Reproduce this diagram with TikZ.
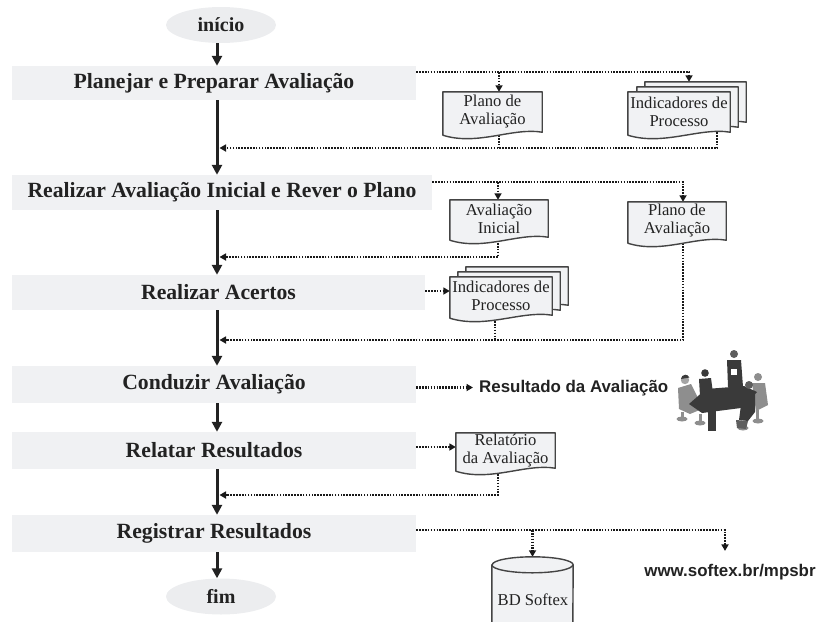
\documentclass[tikz,border=0pt]{standalone}
\usepackage{fontspec}
\setmainfont{Liberation Serif}
\newfontfamily\sansbold{Liberation Sans}
\usetikzlibrary{arrows.meta,calc,shapes.geometric}

\definecolor{stagefill}{HTML}{F0F1F3}
\definecolor{ovalfill}{HTML}{ECEDEF}
\definecolor{docfill}{HTML}{F1F2F4}
\definecolor{inkgray}{HTML}{222222}
\definecolor{docedge}{HTML}{444444}
\definecolor{meetdark}{HTML}{3A3A3A}
\definecolor{meetmid}{HTML}{5E5E5E}
\definecolor{meetlight}{HTML}{8E8E8E}

\pgfdeclarelayer{links}
\pgfdeclarelayer{sheets}
\pgfsetlayers{links,sheets,main}

\tikzset{
  stage/.style={fill=stagefill, inner sep=0pt, text=inkgray,
    font=\fontsize{21.7}{24}\selectfont\bfseries},
  terminal/.style={ellipse, fill=ovalfill, minimum width=110pt, minimum height=36pt,
    inner sep=0pt, text=inkgray, font=\fontsize{20}{24}\selectfont\bfseries},
  sheet/.style={inner sep=0pt, align=center, text=inkgray,
    font=\fontsize{16.6}{18}\selectfont},
  sheetline/.style={draw=docedge, fill=docfill, line width=1.4pt, line join=round},
  flow/.style={draw=inkgray, line width=3pt,
    -{Triangle[length=10pt,width=10pt]}},
  dotline/.style={draw=black!90, line width=2.1pt, dash pattern=on 1.6pt off 1.3pt},
  dotarrow/.style={dotline, -{Triangle[length=6.5pt,width=7pt]}},
  bigsans/.style={inner sep=0pt, text=inkgray,
    font={\sansbold\fontsize{16.9}{18}\selectfont\bfseries}},
}

% outline of a document sheet with a wavy lower edge, around node #1
\newcommand\sheetoutline[1]{%
  \filldraw[sheetline] (#1.north west) -- (#1.north east) -- (#1.south east)
    .. controls ($(#1.south west)!0.7!(#1.south east)+(0,5)$)
           and ($(#1.south west)!0.35!(#1.south east)+(0,-14)$)
    .. ($(#1.south west)+(0,-3)$) -- cycle;}

\begin{document}
\begin{tikzpicture}[x=1pt,y=1pt]
\useasboundingbox (0,0) rectangle (818,-621);

% --- start / end ---
\node[terminal] (start) at (221,-25) {início};
\node[terminal] (end) at (221,-596.5) {fim};

% --- process stages ---
\node[stage, minimum width=404pt, minimum height=34pt] (s1) at (214,-83) {Planejar e Preparar Avaliação};
\node[stage, minimum width=420pt, minimum height=35pt] (s2) at (222,-192.5) {Realizar Avaliação Inicial e Rever o Plano};
\node[stage, minimum width=413pt, minimum height=35pt] (s3) at (218.5,-292.5) {Realizar Acertos};
\node[stage, minimum width=404pt, minimum height=37pt] (s4) at (214,-384.5) {Conduzir Avaliação};
\node[stage, minimum width=404pt, minimum height=37pt] (s5) at (214,-450.5) {Relatar Resultados};
\node[stage, minimum width=404pt, minimum height=37pt] (s6) at (214,-533.5) {Registrar Resultados};

% --- document sheets ---
\node[sheet, minimum width=99pt, minimum height=40pt] (plan1) at (492.5,-112) {Plano de\\Avaliação};
\node[sheet, minimum width=101pt, minimum height=40pt] (ind1b) at (695.5,-102) {};
\node[sheet, minimum width=101pt, minimum height=40pt] (ind1m) at (687.5,-107) {};
\node[sheet, minimum width=102pt, minimum height=40pt] (ind1) at (679,-112) {Indicadores de\\Processo};

\node[sheet, minimum width=98pt, minimum height=37pt] (ainic) at (499,-218.5) {Avaliação\\Inicial};
\node[sheet, minimum width=98pt, minimum height=38pt] (plan2) at (677,-221) {Plano de\\Avaliação};

\node[sheet, minimum width=102pt, minimum height=38pt] (ind2b) at (517,-286) {};
\node[sheet, minimum width=102pt, minimum height=38pt] (ind2m) at (509,-291) {};
\node[sheet, minimum width=102pt, minimum height=38pt] (ind2) at (501,-296) {Indicadores de\\Processo};

\node[sheet, minimum width=99pt, minimum height=35pt] (rel) at (505.5,-450.5) {Relatório\\da Avaliação};

% --- outputs ---
\node[bigsans, anchor=west] (res) at (479,-388) {Resultado da Avaliação};
\node[bigsans] (url) at (730,-572) {www.softex.br/mpsbr};
\node[inner sep=0pt, minimum width=81pt, minimum height=58pt] (db) at (532.5,-594) {};
\node[sheet] (dblabel) at (533,-600) {BD Softex};

\begin{pgfonlayer}{sheets}
  \sheetoutline{plan1}
  \sheetoutline{ind1b}
  \sheetoutline{ind1m}
  \sheetoutline{ind1}
  \sheetoutline{ainic}
  \sheetoutline{plan2}
  \sheetoutline{ind2b}
  \sheetoutline{ind2m}
  \sheetoutline{ind2}
  \sheetoutline{rel}
  % database cylinder
  \filldraw[sheetline] (db.north west) -- (db.south west)
    arc[start angle=180, end angle=360, x radius=40.5, y radius=8]
    -- (db.north east)
    arc[start angle=0, end angle=180, x radius=40.5, y radius=8] -- cycle;
  \draw[sheetline, fill=none] (db.north west)
    arc[start angle=180, end angle=360, x radius=40.5, y radius=8];
\end{pgfonlayer}

% --- main flow ---
\coordinate (spine) at (217,0);
\draw[flow] (start.south -| spine) -- (s1.north -| spine);
\draw[flow] (s1.south -| spine) -- (s2.north -| spine);
\draw[flow] (s2.south -| spine) -- (s3.north -| spine);
\draw[flow] (s3.south -| spine) -- (s4.north -| spine);
\draw[flow] (s4.south -| spine) -- (s5.north -| spine);
\draw[flow] (s5.south -| spine) -- (s6.north -| spine);
\draw[flow] (s6.south -| spine) -- (end.north -| spine);

% return points on the main flow
\coordinate (j1) at (219.5,-148);
\coordinate (j2) at (219.5,-257);
\coordinate (j3) at (219.5,-340);
\coordinate (j5) at (219.5,-495);

\begin{pgfonlayer}{links}
  % stage 1 products
  \coordinate (o1) at ([yshift=11pt]s1.east);
  \coordinate (p1in) at ($(plan1.north)+(6.5,0)$);
  \coordinate (i1in) at ($(ind1b.north)+(-6.5,0)$);
  \draw[dotarrow] (o1) -| (i1in);
  \draw[dotarrow] (p1in |- o1) -- (p1in);
  \coordinate (i1out) at ($(ind1.south east)+(-13,0)$);
  \coordinate (p1out) at ($(plan1.south)+(6.5,0)$);
  \draw[dotarrow] (i1out) |- (j1);
  \draw[dotline] (p1out) -- (p1out |- j1);

  % stage 2 products
  \coordinate (o2) at ([yshift=10.5pt]s2.east);
  \coordinate (a2in) at ($(ainic.north)+(-1,0)$);
  \coordinate (p2in) at ($(plan2.north)+(6,0)$);
  \draw[dotarrow] (o2) -| (p2in);
  \draw[dotarrow] (a2in |- o2) -- (a2in);
  \coordinate (a2out) at ($(ainic.south)+(-1,0)$);
  \draw[dotarrow] (a2out) |- (j2);

  % stage 3 products
  \coordinate (o3) at ([yshift=1.5pt]s3.east);
  \draw[dotarrow] (o3) -- (o3 -| ind2.west);
  \coordinate (i2out) at ($(ind2.south)+(-6,0)$);
  \coordinate (p2out) at ($(plan2.south)+(6,0)$);
  \draw[dotarrow] (p2out) |- (j3);
  \draw[dotline] (i2out) -- (i2out |- j3);

  % stage 4 result
  \coordinate (o4) at ([yshift=-3pt]s4.east);
  \draw[dotarrow] (o4) -- ($(o4 -| res.west)+(-6,0)$);

  % stage 5 report
  \coordinate (o5) at ([yshift=3.5pt]s5.east);
  \draw[dotarrow] (o5) -- (o5 -| rel.west);
  \coordinate (r5out) at ($(rel.south)+(-7.5,0)$);
  \draw[dotarrow] (r5out) |- (j5);

  % stage 6 registration
  \coordinate (o6) at ([yshift=3.5pt]s6.east);
  \coordinate (uin) at ($(url.north)+(-5,13)$);
  \coordinate (dbin) at ($(db.north)+(0,8)$);
  \draw[dotarrow] (o6) -| (uin);
  \draw[dotarrow] (dbin |- o6) -- (dbin);
\end{pgfonlayer}

% --- meeting around a table ---
% chair bases
\fill[meetlight] (682,-419) ellipse (5.5 and 2.5);
\fill[meetlight] (700,-423) ellipse (5.5 and 2.5);
\fill[meetlight] (743,-428) ellipse (5.5 and 2.5);
\fill[meetlight] (758,-421) ellipse (5.5 and 2.5);
\fill[meetlight] (681,-412) rectangle (684,-419);
\fill[meetlight] (699,-414) rectangle (702,-423);
\fill[meetlight] (756,-410) rectangle (759,-421);
% person seated far left
\fill[meetlight] (678,-388) -- (691,-384) -- (697,-396) -- (702,-409) -- (690,-414) -- (679,-409) -- cycle;
\fill[meetlight!80] (685,-380) circle (4.2);
\fill[meetdark] (681,-379) arc[start angle=180, end angle=20, radius=4.3] -- cycle;
% person seated behind left
\fill[meetdark] (705,-373) circle (3.8);
\fill[meetdark] (699,-379) -- (711,-378) -- (713,-393) -- (700,-396) -- cycle;
% standing presenter
\fill[meetmid] (734,-354) circle (4);
\fill[meetdark] (727,-360) -- (741,-360) -- (743,-387) -- (728,-387) -- cycle;
\fill[white] (731,-369) rectangle (737,-375);
% person seated far right
\fill[meetlight] (758,-377) circle (4);
\fill[meetlight] (752,-383) -- (765,-383) -- (768,-405) -- (756,-411) -- cycle;
% table
\fill[meetdark] (689,-404) -- (706,-389) -- (744,-386) -- (757,-392) -- (741,-408) -- (702,-413) -- cycle;
\fill[meetdark] (708,-410) rectangle (716,-431);
% person seated front right
\fill[meetmid] (749,-385) circle (4);
\fill[meetdark] (742,-390) -- (755,-391) -- (755,-412) -- (748,-421) -- (739,-420) -- (741,-405) -- cycle;
\fill[meetmid] (736,-420) -- (748,-421) -- (746,-429) -- (737,-428) -- cycle;
\end{tikzpicture}
\end{document}
